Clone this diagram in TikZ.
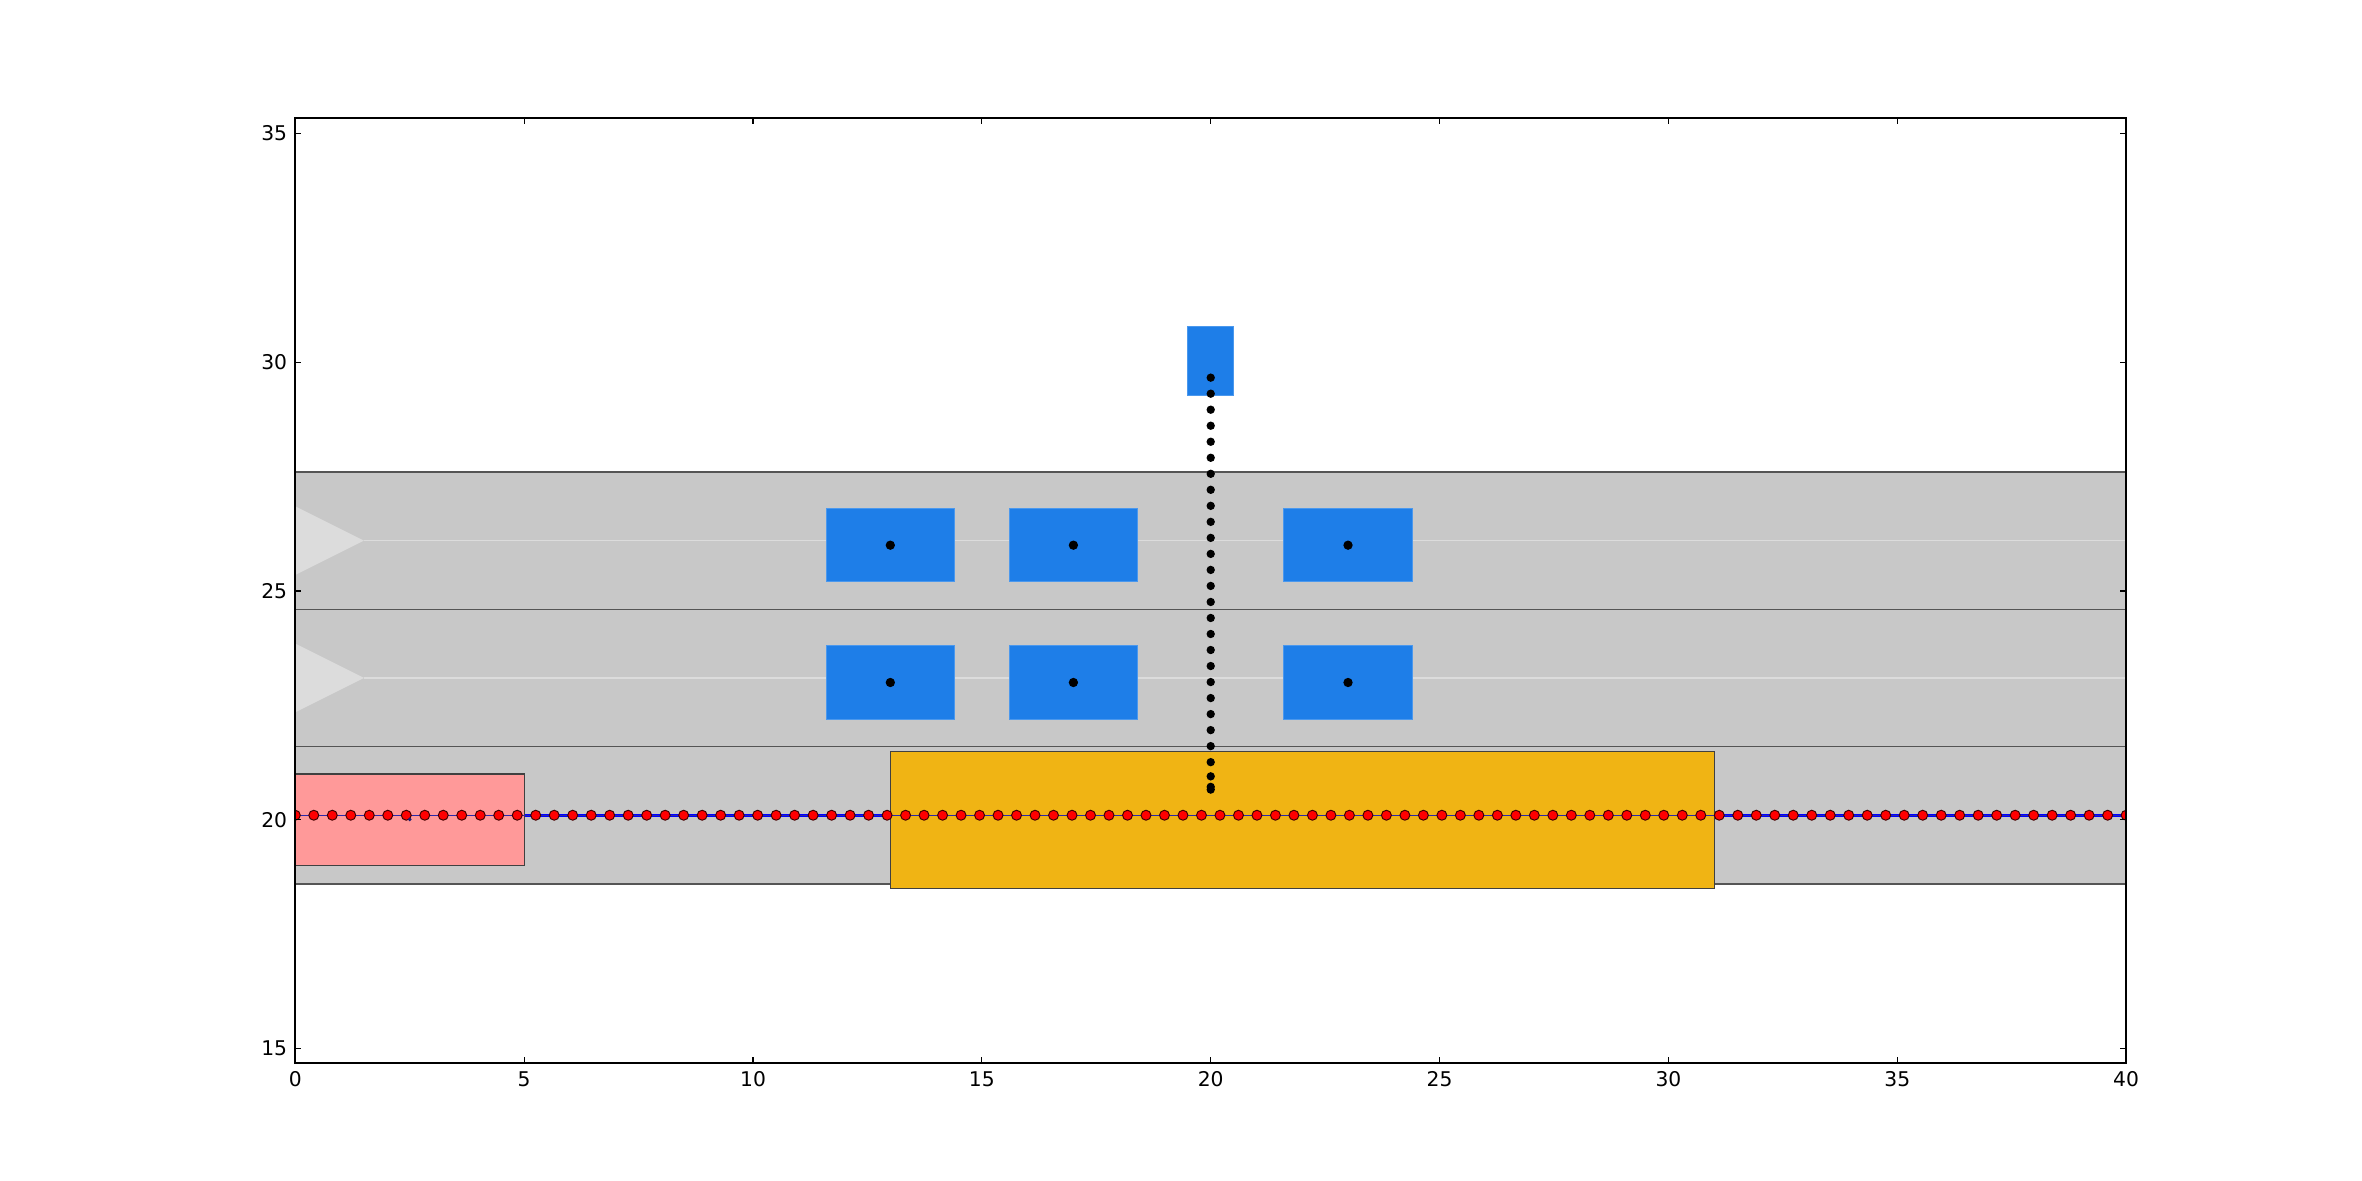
\documentclass[tikz,border=0pt]{standalone}
\usepackage{fontspec}
\setmainfont{DejaVu Sans}
\usetikzlibrary{positioning}

\definecolor{roadgray}{RGB}{200,200,200}
\definecolor{lanedark}{RGB}{85,85,85}
\definecolor{lanelight}{RGB}{220,220,220}
\definecolor{carblue}{RGB}{30,126,232}
\definecolor{egored}{RGB}{255,153,153}
\definecolor{zoneyellow}{RGB}{240,180,20}
\definecolor{pathblue}{RGB}{0,0,255}
\definecolor{pathnavy}{RGB}{40,40,170}

\begin{document}
\begin{tikzpicture}[
    x=0.5cm, y=0.5cm,
    node distance=0.7cm and 0.6cm,
    car/.style={rectangle, fill=carblue, draw=carblue!80!white, line width=0.3pt,
                minimum width=1.4cm, minimum height=0.8cm, inner sep=0pt, outer sep=0pt},
    walker/.style={rectangle, fill=carblue, draw=carblue!80!white, line width=0.3pt,
                minimum width=0.5cm, minimum height=0.75cm, inner sep=0pt, outer sep=0pt},
    zone/.style={draw=black!75, line width=0.4pt},
    laneline/.style={draw=lanedark, line width=0.45pt},
    ticklab/.style={font=\fontsize{6.3}{7.5}\selectfont, inner sep=0pt},
    tick/.style={line width=0.35pt},
]
    % canvas
    \useasboundingbox (-6.452,12.109) rectangle (45.154,37.912);
    \fill[white] (-6.452,12.109) rectangle (45.154,37.912);

    \begin{scope}
    \clip (0,14.685) rectangle (40,35.33);
    % road
    \fill[roadgray] (0,18.6) rectangle (40,27.6);
    \foreach \yc in {26.1,23.1} {
        \fill[lanelight] (0,\yc+0.75) -- (1.5,\yc) -- (0,\yc-0.75) -- cycle;
        \draw[lanelight, line width=0.4pt] (1.5,\yc) -- (40,\yc);
    }
    \foreach \yl in {18.6,21.6,24.6,27.6}
        \draw[laneline] (0,\yl) -- (40,\yl);

    % planned path (under the boxes)
    \draw[pathblue, line width=0.95pt] (0,20.1) -- (40,20.1);

    % ego vehicle and conflict zone
    \filldraw[zone, fill=egored] (0,19) rectangle (5,21);
    \filldraw[zone, fill=zoneyellow] (13,18.5) rectangle (31,21.5);

    % other cars
    \node[car] at (13,26) (car1) {};
    \node[car, right=0.6cm of car1] (car2) {};
    \node[car, right=1.6cm of car2] (car3) {};
    \node[car, below=of car1] (car4) {};
    \node[car, below=of car2] (car5) {};
    \node[car, below=of car3] (car6) {};
    \node[walker] at (20,30.02) (ped) {};

    % path on top
    \draw[pathnavy, line width=0.45pt] (0,20.1) -- (40,20.1);
    \foreach \i in {0,...,99} {
        \pgfmathsetmacro\px{40*\i/99}
        \filldraw[fill=red, draw=black!75!red, line width=0.3pt] (\px,20.1) circle (1.55pt);
    }
    \fill[pathnavy!70!black] (2.5,20.01) circle (0.6pt);

    % pedestrian track
    \foreach \k in {0,...,24}
        \fill[black] (20,29.66-0.35*\k) circle (1.3pt);
    \foreach \yp in {20.95,20.72,20.66}
        \fill[black] (20,\yp) circle (1.3pt);

    % car centres
    \foreach \c in {car1,car2,car3,car4,car5,car6}
        \fill[black] (\c.center) circle (1.45pt);
    \end{scope}

    % axes
    \draw[line width=0.55pt] (0,14.685) rectangle (40,35.33);
    \foreach \x in {0,5,...,40} {
        \draw[tick] (\x,14.685) -- ++(0,0.131);
        \draw[tick] (\x,35.33) -- ++(0,-0.131);
        \node[ticklab, anchor=north] (xl\x) at (\x,14.51) {\x};
    }
    \foreach \y in {15,20,...,35} {
        \draw[tick] (0,\y) -- ++(0.131,0);
        \draw[tick] (40,\y) -- ++(-0.131,0);
        \node[ticklab, anchor=east] (yl\y) at (-0.166,\y) {\y};
    }
\end{tikzpicture}
\end{document}
